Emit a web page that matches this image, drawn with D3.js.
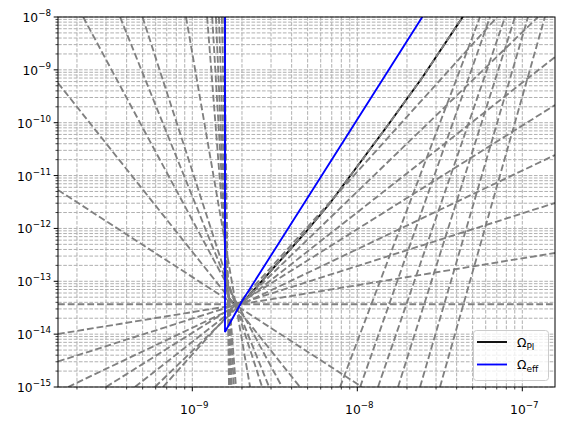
<!DOCTYPE html>
<html><head><meta charset="utf-8">
<script src="https://cdn.jsdelivr.net/npm/d3@7"></script>
<style>body{margin:0;background:#fff} svg{display:block} text{font-family:"DejaVu Sans",sans-serif}</style>
</head><body><svg id="c" width="568" height="425"></svg>
<script>
// ---- data ----
const xDomain = [1.535e-10, 1.578e-7];
const yDomain = [1e-15, 1e-8];
const xTickExponents = [-9, -8, -7];
const yTickExponents = [-15, -14, -13, -12, -11, -10, -9, -8];

// Omega_Pl (black)
const plX = [1.578e-9, 1.578e-9, 1.600e-9, 1.667e-9, 1.815e-9, 2.086e-9, 2.955e-9, 4.82e-9, 6.84e-9, 1.535e-8, 2.466e-8, 4.31e-8, 4.56e-8];
const plY = [1e-7, 3.91e-13, 8.51e-14, 4.83e-14, 3.56e-14, 4.43e-14, 1.50e-13, 8.20e-13, 3.03e-12, 9.06e-11, 7.01e-10, 9.57e-9, 1.36e-8];
// Omega_eff (blue)
const effX = [1.578e-9, 1.578e-9, 1.992e-9, 2.50e-8];
const effY = [1e-7, 1.1e-14, 4.11e-14, 1.05e-8];

// gray dashed components: [x1, y1, x2, y2]
const grayLines = [
  [1.535e-10, 5.64e-10, 4.49e-9, 1e-15],
  [1.535e-10, 5.34e-12, 1.068e-8, 1e-15],
  [2.18e-10, 1e-8, 3.50e-9, 1e-15],
  [3.65e-10, 1e-8, 2.92e-9, 1e-15],
  [4.99e-10, 1e-8, 2.65e-9, 1e-15],
  [9.16e-10, 1e-8, 2.24e-9, 1e-15],
  [1.23e-9, 1e-8, 1.84e-9, 1e-15],
  [1.32e-9, 1e-8, 1.789e-9, 1e-15],
  [1.39e-9, 1e-8, 1.739e-9, 1e-15],
  [1.45e-9, 1e-8, 1.716e-9, 1e-15],
  [1.51e-9, 1e-8, 1.692e-9, 1e-15],
  [1.56e-9, 1e-8, 1.669e-9, 1e-15],
  [1.535e-10, 3.67e-14, 1.578e-7, 3.67e-14],
  [1.535e-10, 1.007e-14, 1.578e-7, 3.43e-13],
  [1.535e-10, 3.04e-15, 1.578e-7, 3.03e-12],
  [1.765e-10, 1e-15, 1.578e-7, 2.45e-11],
  [3.0e-10, 1e-15, 1.578e-7, 2.16e-10],
  [4.49e-10, 1e-15, 1.578e-7, 1.75e-9],
  [5.94e-10, 1e-15, 1.245e-7, 1e-8],
  [6.64e-10, 1e-15, 7.03e-8, 1e-8],
  [7.86e-9, 1e-15, 5.54e-8, 1e-8],
  [1.04e-8, 1e-15, 6.37e-8, 1e-8],
  [1.335e-8, 1e-15, 7.86e-8, 1e-8],
  [1.765e-8, 1e-15, 9.03e-8, 1e-8],
  [2.40e-8, 1e-15, 1.083e-7, 1e-8],
  [3.17e-8, 1e-15, 1.37e-7, 1e-8]
];

// ---- chart ----
const L = 58, R = 555, T = 17, B = 387;
const svg = d3.select("#c");
const x = d3.scaleLog().domain(xDomain).range([L, R]);
const y = d3.scaleLog().domain(yDomain).range([B, T]);

function ticksIn(dom) {
  const out = [];
  const lo = Math.floor(Math.log10(dom[0])), hi = Math.ceil(Math.log10(dom[1]));
  for (let e = lo; e <= hi; e++) for (let m = 1; m <= 9; m++) {
    const v = m * Math.pow(10, e);
    if (v >= dom[0] * 0.9999 && v <= dom[1] * 1.0001) out.push({v, major: m === 1});
  }
  return out;
}
const xt = ticksIn(xDomain), yt = ticksIn(yDomain);

const grid = svg.append("g").attr("stroke", "#b0b0b0").attr("stroke-width", 1).attr("stroke-dasharray", "3.65,1.58");
grid.selectAll(".gx").data(xt).join("line").attr("x1", d => x(d.v)).attr("x2", d => x(d.v)).attr("y1", T).attr("y2", B);
grid.selectAll(".gy").data(yt).join("line").attr("y1", d => y(d.v)).attr("y2", d => y(d.v)).attr("x1", L).attr("x2", R);

svg.append("clipPath").attr("id", "clip").append("rect").attr("x", L).attr("y", T).attr("width", R - L).attr("height", B - T);
const plot = svg.append("g").attr("clip-path", "url(#clip)");
const line = d3.line().x(d => x(d[0])).y(d => y(d[1]));

const plPts = plX.map((v, i) => [v, plY[i]]);
const effPts = effX.map((v, i) => [v, effY[i]]);

plot.append("path").attr("d", line(plPts)).attr("fill", "none").attr("stroke", "#000").attr("stroke-width", 1.85);
plot.selectAll(".gl").data(grayLines).join("path")
  .attr("d", d => line([[d[0], d[1]], [d[2], d[3]]]))
  .attr("fill", "none").attr("stroke", "#808080").attr("stroke-width", 1.85).attr("stroke-dasharray", "6.8,2.96");
plot.append("path").attr("d", line(plPts)).attr("fill", "none").attr("stroke", "#808080").attr("stroke-width", 1.85).attr("stroke-dasharray", "6.8,2.96");
plot.append("path").attr("d", line(effPts)).attr("fill", "none").attr("stroke", "#0000ff").attr("stroke-width", 1.85);

// spines
svg.append("rect").attr("x", L).attr("y", T).attr("width", R - L).attr("height", B - T).attr("fill", "none").attr("stroke", "#000").attr("stroke-width", 1);

// ticks
const tk = svg.append("g").attr("stroke", "#000");
tk.selectAll(".tx").data(xt).join("line").attr("x1", d => x(d.v)).attr("x2", d => x(d.v)).attr("y1", B).attr("y2", d => B + (d.major ? 4.3 : 2.5)).attr("stroke-width", d => d.major ? 1 : 0.75);
tk.selectAll(".ty").data(yt).join("line").attr("y1", d => y(d.v)).attr("y2", d => y(d.v)).attr("x1", L).attr("x2", d => L - (d.major ? 4.3 : 2.5)).attr("stroke-width", d => d.major ? 1 : 0.75);

function label(g, e, xx, yy, anchor) {
  const t = g.append("text").attr("x", xx).attr("y", yy).attr("text-anchor", anchor).attr("font-size", 12.3).attr("fill", "#000");
  t.append("tspan").text("10");
  t.append("tspan").attr("dy", -6).attr("font-size", 8.7).text("\u2212" + Math.abs(e));
}
const lab = svg.append("g");
xTickExponents.forEach(e => label(lab, e, x(Math.pow(10, e)) + 2, 414, "middle"));
yTickExponents.forEach(e => label(lab, e, L - 7, y(Math.pow(10, e)) + 5, "end"));

// legend
const lg = svg.append("g");
lg.append("rect").attr("x", 473.5).attr("y", 330.5).attr("width", 75).attr("height", 50).attr("rx", 3)
  .attr("fill", "#fff").attr("fill-opacity", 0.8).attr("stroke", "#cccccc").attr("stroke-width", 1);
const legendItems = [{name: "Pl", color: "#000"}, {name: "eff", color: "#0000ff"}];
legendItems.forEach((it, i) => {
  const yy = 342 + i * 22.5;
  lg.append("line").attr("x1", 477).attr("x2", 507).attr("y1", yy).attr("y2", yy).attr("stroke", it.color).attr("stroke-width", 1.85);
  const t = lg.append("text").attr("x", 517).attr("y", yy + 4.5).attr("font-size", 12.3).attr("fill", "#000");
  t.append("tspan").text("\u03A9");
  t.append("tspan").attr("dy", 3).attr("font-size", 9).text(it.name);
});
</script></body></html>
